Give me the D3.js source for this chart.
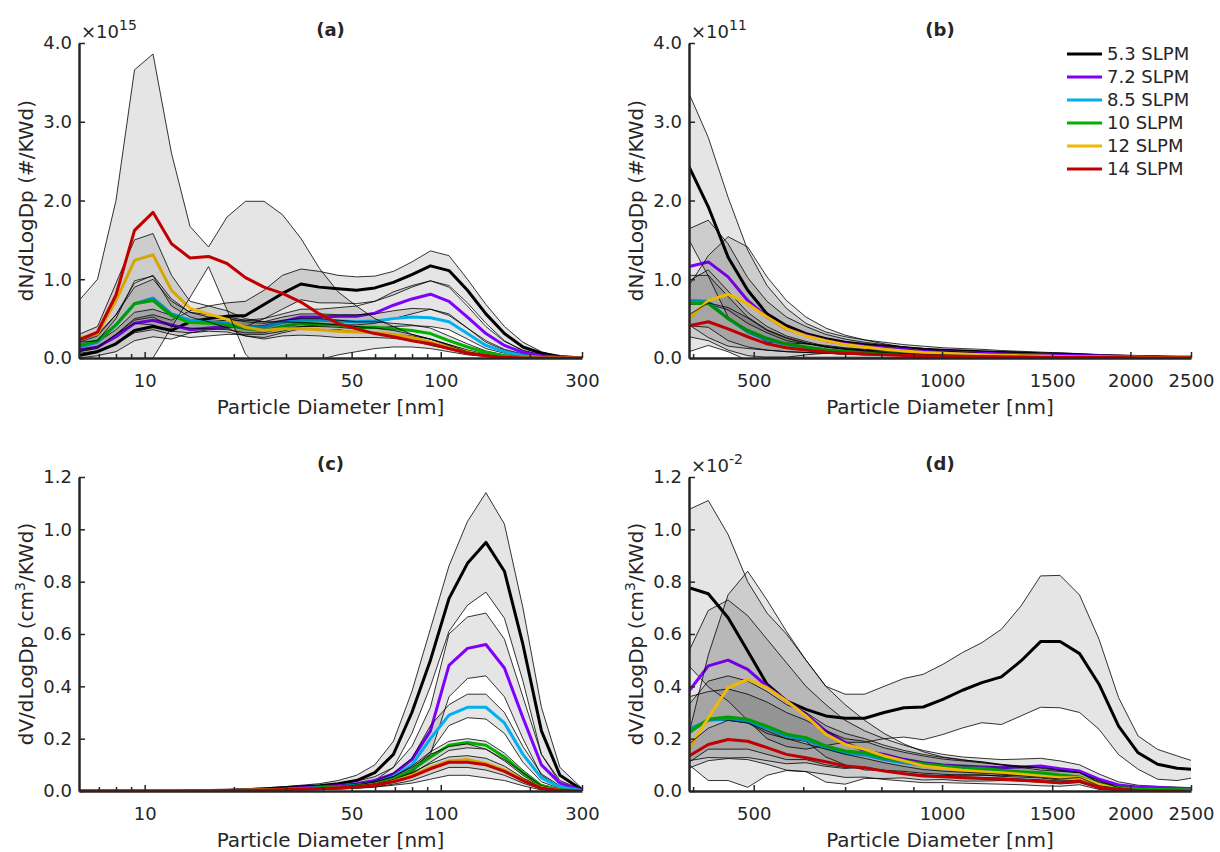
<!DOCTYPE html>
<html>
<head>
<meta charset="utf-8">
<script src="https://cdn.jsdelivr.net/npm/d3@7"></script>
<style>
  body { margin: 0; background: #fff; }
  text { font-family: "DejaVu Sans", sans-serif; fill: #262626; }
</style>
</head>
<body>
<script>
// particle diameters (nm) -- SMPS bins for (a),(c), OPS bins for (b),(d)
const dpA = [6.0,6.93,8.0,9.24,10.67,12.32,14.23,16.43,18.97,21.9,25.3,29.2,33.7,38.9,45.0,51.9,59.9,69.2,79.9,92.3,106.6,123.1,142.1,164.1,189.5,218.8,252.7,300];
const dpB = [394,423,455,489,525,564,606,652,700,752,808,869,933,1003,1078,1158,1244,1337,1437,1544,1659,1782,1915,2058,2211,2376,2500];

const seriesNames = ["5.3 SLPM", "7.2 SLPM", "8.5 SLPM", "10 SLPM", "12 SLPM", "14 SLPM"];
const seriesColors = ["#000000", "#8000ff", "#00b0f0", "#00b000", "#f0b800", "#c00000"];

// (a) dN/dLogDp, x1e15  -- mean, lower, upper
const a53   = [0.03,0.08,0.18,0.35,0.40,0.35,0.46,0.50,0.53,0.54,0.68,0.82,0.94,0.90,0.88,0.86,0.89,0.96,1.06,1.17,1.11,0.86,0.56,0.31,0.14,0.06,0.02,0];
const a53lo = [0,0.03,0.08,0.22,0.27,0.24,0.32,0.36,0.38,0.40,0.50,0.62,0.74,0.70,0.70,0.69,0.72,0.80,0.90,0.98,0.92,0.70,0.44,0.22,0.09,0.04,0.01,0];
const a53hi = [0.08,0.14,0.30,0.50,0.55,0.48,0.60,0.66,0.70,0.72,0.86,1.05,1.13,1.10,1.05,1.03,1.04,1.10,1.22,1.36,1.30,1.00,0.68,0.40,0.20,0.08,0.02,0];
const a72   = [0.10,0.14,0.27,0.44,0.48,0.42,0.36,0.38,0.40,0.40,0.40,0.46,0.52,0.52,0.53,0.53,0.57,0.67,0.75,0.81,0.72,0.52,0.31,0.16,0.07,0.03,0.01,0];
const a72lo = [0.06,0.09,0.18,0.32,0.36,0.30,0.26,0.28,0.30,0.30,0.30,0.34,0.40,0.42,0.42,0.42,0.44,0.50,0.56,0.62,0.54,0.38,0.22,0.11,0.05,0.02,0,0];
const a72hi = [0.14,0.20,0.36,0.58,0.62,0.54,0.46,0.46,0.48,0.48,0.50,0.56,0.62,0.62,0.64,0.66,0.72,0.84,0.92,0.98,0.90,0.66,0.40,0.21,0.10,0.04,0.01,0];
const a85   = [0.14,0.20,0.42,0.69,0.76,0.56,0.48,0.46,0.44,0.40,0.39,0.45,0.48,0.48,0.47,0.46,0.47,0.50,0.52,0.51,0.46,0.31,0.16,0.08,0.03,0.01,0,0];
const a85lo = [0.08,0.12,0.30,0.48,0.52,0.40,0.38,0.37,0.36,0.32,0.32,0.38,0.40,0.40,0.39,0.37,0.38,0.40,0.41,0.40,0.36,0.24,0.12,0.06,0.02,0,0,0];
const a85hi = [0.20,0.28,0.55,0.90,1.00,0.72,0.58,0.55,0.52,0.48,0.46,0.52,0.56,0.56,0.55,0.55,0.56,0.60,0.63,0.62,0.56,0.38,0.20,0.10,0.04,0.01,0,0];
const a10   = [0.16,0.22,0.42,0.69,0.73,0.54,0.45,0.44,0.42,0.37,0.35,0.40,0.44,0.43,0.42,0.39,0.39,0.37,0.35,0.31,0.22,0.14,0.07,0.03,0.01,0,0,0];
const a10lo = [0.10,0.14,0.30,0.44,0.42,0.34,0.32,0.34,0.33,0.28,0.26,0.32,0.37,0.36,0.36,0.33,0.32,0.30,0.28,0.24,0.17,0.10,0.05,0.02,0,0,0,0];
const a10hi = [0.22,0.30,0.55,0.95,1.05,0.75,0.58,0.52,0.50,0.46,0.44,0.48,0.50,0.50,0.48,0.46,0.46,0.44,0.42,0.38,0.28,0.18,0.09,0.04,0.01,0,0,0];
const a12   = [0.25,0.31,0.73,1.24,1.31,0.86,0.63,0.56,0.49,0.39,0.35,0.37,0.37,0.36,0.34,0.33,0.32,0.30,0.26,0.20,0.14,0.08,0.03,0.01,0,0,0,0];
const a12lo = [0.20,0.22,0.50,0.98,1.04,0.66,0.52,0.46,0.38,0.28,0.24,0.28,0.29,0.28,0.26,0.26,0.26,0.25,0.22,0.16,0.11,0.06,0.02,0,0,0,0,0];
const a12hi = [0.30,0.40,0.95,1.50,1.58,1.05,0.72,0.66,0.60,0.50,0.46,0.46,0.45,0.44,0.42,0.40,0.38,0.35,0.30,0.24,0.17,0.10,0.04,0.01,0,0,0,0];
const a14   = [0.23,0.33,0.80,1.62,1.85,1.45,1.27,1.29,1.20,1.02,0.90,0.82,0.71,0.56,0.44,0.37,0.31,0.27,0.22,0.18,0.12,0.06,0.03,0.01,0,0,0,0];
const a14lo = [-0.27,-0.34,-0.40,-0.42,0,0.39,0.77,1.16,0.61,0.05,-0.19,-0.18,-0.10,-0.02,0.04,0.08,0.12,0.14,0.14,0.12,0.08,0.04,0.02,0.01,0,0,0,0];
const a14hi = [0.73,1.00,2.00,3.66,3.86,2.60,1.67,1.41,1.79,1.99,1.99,1.82,1.52,1.14,0.84,0.66,0.50,0.40,0.30,0.24,0.16,0.08,0.04,0.01,0,0,0,0];

// (b) dN/dLogDp, x1e11
const b53   = [2.43,1.92,1.28,0.86,0.56,0.41,0.31,0.245,0.20,0.17,0.15,0.13,0.11,0.10,0.09,0.08,0.07,0.065,0.055,0.05,0.04,0.03,0.025,0.02,0.015,0.01,0.01];
const b53lo = [1.50,1.04,0.52,0.35,0.20,0.19,0.18,0.16,0.13,0.11,0.10,0.09,0.07,0.07,0.06,0.05,0.045,0.045,0.035,0.035,0.025,0.015,0.015,0.012,0.01,0.005,0.008];
const b53hi = [3.36,2.80,2.04,1.37,0.92,0.63,0.44,0.33,0.27,0.23,0.20,0.17,0.15,0.13,0.12,0.11,0.095,0.085,0.075,0.065,0.055,0.045,0.035,0.028,0.02,0.015,0.012];
const b72   = [1.16,1.22,1.03,0.73,0.52,0.37,0.29,0.22,0.18,0.15,0.13,0.11,0.09,0.08,0.07,0.06,0.05,0.045,0.04,0.035,0.03,0.025,0.02,0.015,0.01,0.01,0.01];
const b72lo = [0.68,0.69,0.61,0.44,0.32,0.22,0.18,0.14,0.12,0.10,0.09,0.08,0.06,0.06,0.05,0.04,0.035,0.032,0.03,0.025,0.022,0.02,0.015,0.01,0.007,0.008,0.008];
const b72hi = [1.64,1.75,1.45,1.02,0.72,0.52,0.40,0.30,0.24,0.20,0.17,0.14,0.12,0.10,0.09,0.08,0.065,0.058,0.05,0.045,0.038,0.03,0.025,0.02,0.013,0.012,0.012];
const b85   = [0.73,0.72,0.50,0.33,0.23,0.17,0.13,0.10,0.08,0.065,0.055,0.045,0.04,0.035,0.03,0.025,0.02,0.018,0.015,0.012,0.01,0.008,0.006,0.005,0.004,0.003,0.003];
const b85lo = [0.41,0.39,0.22,0.14,0.10,0.08,0.07,0.06,0.05,0.04,0.035,0.03,0.03,0.025,0.02,0.018,0.014,0.014,0.012,0.009,0.008,0.006,0.004,0.004,0.003,0.002,0.002];
const b85hi = [1.05,1.05,0.78,0.52,0.36,0.26,0.19,0.14,0.11,0.09,0.075,0.06,0.05,0.045,0.04,0.032,0.026,0.022,0.018,0.015,0.012,0.01,0.008,0.006,0.005,0.004,0.004];
const b10   = [0.70,0.69,0.50,0.35,0.25,0.18,0.14,0.105,0.085,0.07,0.06,0.05,0.042,0.036,0.03,0.026,0.022,0.019,0.016,0.013,0.011,0.009,0.007,0.005,0.004,0.003,0.003];
const b10lo = [0.42,0.26,0.15,0.12,0.10,0.08,0.07,0.06,0.05,0.04,0.04,0.035,0.03,0.025,0.02,0.018,0.016,0.014,0.012,0.01,0.008,0.007,0.005,0.003,0.003,0.002,0.002];
const b10hi = [0.98,1.12,0.85,0.58,0.40,0.28,0.21,0.15,0.12,0.10,0.08,0.065,0.055,0.047,0.04,0.034,0.028,0.024,0.02,0.016,0.014,0.011,0.009,0.007,0.005,0.004,0.004];
const b12   = [0.50,0.73,0.81,0.69,0.52,0.37,0.28,0.22,0.17,0.14,0.11,0.09,0.07,0.06,0.05,0.04,0.035,0.03,0.025,0.02,0.017,0.014,0.011,0.008,0.006,0.004,0.004];
const b12lo = [0.08,0.16,0.08,-0.03,0.01,0.01,0.04,0.06,0.05,0.05,0.04,0.04,0.03,0.03,0.025,0.02,0.02,0.018,0.015,0.012,0.011,0.01,0.008,0.006,0.004,0.003,0.003];
const b12hi = [0.92,1.30,1.54,1.41,1.03,0.73,0.52,0.38,0.29,0.23,0.18,0.14,0.11,0.09,0.075,0.06,0.05,0.042,0.035,0.028,0.023,0.018,0.014,0.01,0.008,0.005,0.005];
const b14   = [0.41,0.46,0.37,0.27,0.18,0.13,0.10,0.075,0.06,0.05,0.04,0.033,0.027,0.023,0.02,0.017,0.014,0.012,0.01,0.009,0.008,0.006,0.005,0.004,0.003,0.002,0.002];
const b14lo = [0.27,0.22,0.10,0.03,0.01,0.01,0.01,0.01,0.01,0.01,0.01,0.008,0.006,0.006,0.005,0.004,0.003,0.003,0.002,0.002,0.002,0.001,0.001,0.001,0.001,0,0];
const b14hi = [0.55,0.70,0.64,0.51,0.35,0.25,0.19,0.14,0.11,0.09,0.07,0.058,0.048,0.04,0.035,0.03,0.025,0.021,0.018,0.016,0.014,0.011,0.009,0.007,0.005,0.004,0.004];

// (c) dV/dLogDp, cm3/KWd
const c53   = [0,0,0,0,0,0.001,0.001,0.002,0.003,0.005,0.008,0.012,0.016,0.02,0.028,0.04,0.07,0.14,0.30,0.50,0.735,0.87,0.95,0.84,0.56,0.23,0.06,0.005];
const c53lo = [0,0,0,0,0,0,0,0,0.001,0.002,0.004,0.008,0.01,0.012,0.016,0.022,0.04,0.09,0.22,0.40,0.61,0.71,0.76,0.66,0.42,0.14,0.03,0];
const c53hi = [0,0,0,0,0.001,0.002,0.003,0.004,0.005,0.008,0.012,0.016,0.022,0.028,0.04,0.06,0.10,0.19,0.38,0.62,0.86,1.03,1.14,1.02,0.70,0.32,0.09,0.01];
const c72   = [0,0,0,0,0,0,0.001,0.001,0.002,0.003,0.005,0.008,0.011,0.015,0.02,0.028,0.04,0.065,0.12,0.23,0.48,0.545,0.56,0.47,0.28,0.10,0.03,0.003];
const c72lo = [0,0,0,0,0,0,0,0,0.001,0.001,0.003,0.005,0.007,0.01,0.013,0.019,0.025,0.04,0.07,0.14,0.36,0.43,0.44,0.36,0.20,0.06,0.015,0];
const c72hi = [0,0,0,0,0,0.001,0.002,0.002,0.003,0.005,0.007,0.011,0.015,0.02,0.027,0.037,0.055,0.09,0.17,0.32,0.60,0.665,0.68,0.58,0.36,0.14,0.04,0.005];
const c85   = [0,0,0,0,0,0,0.001,0.001,0.002,0.003,0.004,0.006,0.009,0.012,0.016,0.022,0.03,0.055,0.10,0.20,0.29,0.32,0.32,0.26,0.14,0.05,0.015,0.002];
const c85lo = [0,0,0,0,0,0,0,0.001,0.001,0.002,0.003,0.004,0.006,0.008,0.011,0.016,0.022,0.042,0.075,0.15,0.25,0.28,0.275,0.22,0.11,0.035,0.01,0.001];
const c85hi = [0,0,0,0,0,0.001,0.001,0.002,0.003,0.004,0.006,0.008,0.012,0.016,0.021,0.028,0.038,0.068,0.125,0.25,0.33,0.37,0.37,0.30,0.17,0.065,0.02,0.003];
const c10   = [0,0,0,0,0,0,0.001,0.001,0.002,0.003,0.004,0.006,0.008,0.011,0.014,0.019,0.028,0.045,0.08,0.13,0.175,0.185,0.175,0.13,0.07,0.02,0.005,0.001];
const c10lo = [0,0,0,0,0,0,0,0.001,0.001,0.002,0.003,0.004,0.006,0.008,0.01,0.014,0.022,0.035,0.065,0.11,0.155,0.165,0.16,0.115,0.06,0.015,0.003,0];
const c10hi = [0,0,0,0,0,0.001,0.001,0.002,0.003,0.004,0.005,0.008,0.011,0.014,0.018,0.024,0.034,0.055,0.095,0.15,0.19,0.20,0.19,0.145,0.08,0.025,0.007,0.001];
const c12   = [0,0,0,0,0,0,0.001,0.001,0.002,0.003,0.004,0.005,0.007,0.009,0.012,0.016,0.025,0.04,0.06,0.09,0.115,0.12,0.105,0.08,0.045,0.012,0.003,0];
const c12lo = [0,0,0,0,0,0,0,0,0.001,0.001,0.002,0.003,0.004,0.005,0.007,0.01,0.015,0.022,0.03,0.045,0.06,0.06,0.05,0.04,0.02,0.004,0.001,0];
const c12hi = [0,0,0,0,0,0.001,0.001,0.002,0.003,0.004,0.006,0.008,0.01,0.013,0.017,0.022,0.034,0.055,0.09,0.14,0.17,0.18,0.16,0.12,0.07,0.02,0.005,0.001];
const c14   = [0,0,0,0,0,0,0.001,0.001,0.002,0.003,0.004,0.005,0.007,0.009,0.011,0.015,0.022,0.035,0.055,0.085,0.11,0.11,0.10,0.075,0.04,0.01,0.003,0];
const c14lo = [0,0,0,0,0,0,0,0,0.001,0.002,0.003,0.004,0.005,0.006,0.008,0.011,0.016,0.026,0.04,0.065,0.09,0.09,0.08,0.06,0.03,0.007,0.002,0];
const c14hi = [0,0,0,0,0,0.001,0.001,0.002,0.003,0.004,0.005,0.007,0.009,0.012,0.015,0.02,0.028,0.044,0.07,0.105,0.13,0.135,0.125,0.095,0.05,0.014,0.004,0];

// (d) dV/dLogDp, x1e-2
const d53   = [0.777,0.754,0.662,0.535,0.408,0.344,0.312,0.287,0.278,0.278,0.30,0.318,0.321,0.35,0.385,0.414,0.436,0.497,0.571,0.571,0.525,0.408,0.248,0.146,0.102,0.087,0.083];
const d53lo = [0.478,0.398,0.344,0.27,0.20,0.17,0.16,0.174,0.186,0.186,0.20,0.206,0.196,0.216,0.241,0.261,0.254,0.287,0.32,0.318,0.30,0.236,0.139,0.083,0.045,0.04,0.049];
const d53hi = [1.076,1.11,0.98,0.80,0.68,0.60,0.50,0.40,0.37,0.37,0.40,0.43,0.446,0.484,0.529,0.567,0.618,0.707,0.822,0.824,0.749,0.58,0.357,0.21,0.159,0.134,0.117];
const d72   = [0.382,0.478,0.50,0.465,0.40,0.344,0.293,0.229,0.185,0.153,0.14,0.121,0.108,0.099,0.096,0.092,0.089,0.092,0.096,0.085,0.076,0.045,0.023,0.015,0.013,0.01,0.009];
const d72lo = [0.23,0.27,0.27,0.26,0.22,0.20,0.19,0.13,0.10,0.08,0.08,0.067,0.06,0.058,0.062,0.06,0.058,0.062,0.067,0.055,0.052,0.025,0.011,0.008,0.008,0.005,0.005];
const d72hi = [0.535,0.69,0.73,0.67,0.58,0.49,0.40,0.33,0.27,0.23,0.20,0.175,0.155,0.14,0.13,0.125,0.12,0.122,0.125,0.115,0.10,0.065,0.035,0.022,0.018,0.015,0.013];
const d85   = [0.235,0.27,0.275,0.265,0.24,0.21,0.195,0.165,0.145,0.138,0.12,0.108,0.098,0.09,0.085,0.08,0.075,0.07,0.065,0.058,0.052,0.022,0.01,0.006,0.005,0.004,0.003];
const d85lo = [0.11,0.16,0.16,0.16,0.14,0.12,0.12,0.10,0.09,0.086,0.075,0.068,0.062,0.058,0.055,0.052,0.05,0.046,0.043,0.038,0.034,0.012,0.005,0.003,0.003,0.002,0.001];
const d85hi = [0.36,0.38,0.39,0.37,0.34,0.30,0.27,0.23,0.20,0.19,0.165,0.148,0.134,0.122,0.115,0.108,0.10,0.094,0.087,0.078,0.07,0.032,0.015,0.009,0.007,0.006,0.005];
const d10   = [0.223,0.274,0.283,0.274,0.248,0.217,0.204,0.172,0.153,0.146,0.127,0.115,0.104,0.096,0.089,0.087,0.079,0.074,0.07,0.061,0.054,0.025,0.013,0.008,0.006,0.005,0.004];
const d10lo = [0.116,0.128,0.126,0.128,0.116,0.104,0.108,0.094,0.086,0.092,0.079,0.075,0.068,0.064,0.06,0.062,0.056,0.053,0.05,0.042,0.038,0.015,0.008,0.005,0.004,0.003,0.002];
const d10hi = [0.33,0.42,0.44,0.42,0.38,0.33,0.30,0.25,0.22,0.20,0.175,0.155,0.14,0.128,0.118,0.112,0.102,0.095,0.09,0.08,0.07,0.035,0.018,0.011,0.008,0.007,0.006];
const d12   = [0.16,0.28,0.395,0.427,0.395,0.344,0.287,0.217,0.178,0.159,0.134,0.115,0.096,0.087,0.079,0.074,0.07,0.064,0.057,0.051,0.051,0.025,0.006,0,0,0,0];
const d12lo = [0.10,0.04,0.04,0.014,0.06,0.078,0.074,0.034,0.026,0.048,0.048,0.05,0.042,0.044,0.038,0.038,0.04,0.038,0.034,0.027,0.032,0.01,0,0,0,0,0];
const d12hi = [0.22,0.52,0.75,0.84,0.73,0.61,0.50,0.40,0.33,0.27,0.22,0.18,0.15,0.13,0.12,0.11,0.10,0.09,0.08,0.075,0.07,0.04,0.012,0.002,0,0,0];
const d14   = [0.134,0.178,0.197,0.19,0.166,0.14,0.127,0.112,0.096,0.089,0.076,0.066,0.057,0.054,0.051,0.048,0.045,0.041,0.036,0.032,0.038,0.013,0.006,0.002,0.001,0.001,0];
const d14lo = [0.088,0.116,0.124,0.12,0.102,0.08,0.074,0.064,0.052,0.053,0.044,0.038,0.032,0.032,0.03,0.028,0.026,0.024,0.02,0.018,0.024,0.006,0.002,0,0,0,0];
const d14hi = [0.18,0.24,0.27,0.26,0.23,0.20,0.18,0.16,0.14,0.125,0.108,0.094,0.082,0.076,0.072,0.068,0.064,0.058,0.052,0.046,0.052,0.02,0.01,0.004,0.002,0.002,0.001];

// axis ticks
const xTicksSmps = [10, 50, 100, 300];
const xMinorSmps = [7, 8, 9, 20, 30, 40, 60, 70, 80, 90, 200];
const xTicksOps = [500, 1000, 1500, 2000, 2500];
const xMinorOps = [400, 600, 700, 800, 900];
const yTicksN = [0, 1, 2, 3, 4];
const yTicksV = [0, 0.2, 0.4, 0.6, 0.8, 1.0, 1.2];

const W = 1220, H = 852;
const svg = d3.select("body").append("svg").attr("width", W).attr("height", H);

const panels = [
  { tag: "a", dp: dpA, left: 79, right: 582, top: 43, bottom: 358, xDom: [6, 300], yMax: 4,
    xTicks: xTicksSmps, xMinor: xMinorSmps, yTicks: yTicksN, exp: "15", ylab: ["dN/dLogDp (#/KWd)"],
    series: [[a53,a53lo,a53hi],[a72,a72lo,a72hi],[a85,a85lo,a85hi],[a10,a10lo,a10hi],[a12,a12lo,a12hi],[a14,a14lo,a14hi]] },
  { tag: "b", dp: dpB, left: 689, right: 1191, top: 43, bottom: 358, xDom: [394, 2500], yMax: 4,
    xTicks: xTicksOps, xMinor: xMinorOps, yTicks: yTicksN, exp: "11", ylab: ["dN/dLogDp (#/KWd)"], legend: true,
    series: [[b53,b53lo,b53hi],[b72,b72lo,b72hi],[b85,b85lo,b85hi],[b10,b10lo,b10hi],[b12,b12lo,b12hi],[b14,b14lo,b14hi]] },
  { tag: "c", dp: dpA, left: 79, right: 582, top: 477, bottom: 791, xDom: [6, 300], yMax: 1.2,
    xTicks: xTicksSmps, xMinor: xMinorSmps, yTicks: yTicksV, exp: null, ylab: ["dV/dLogDp (cm", "3", "/KWd)"],
    series: [[c53,c53lo,c53hi],[c72,c72lo,c72hi],[c85,c85lo,c85hi],[c10,c10lo,c10hi],[c12,c12lo,c12hi],[c14,c14lo,c14hi]] },
  { tag: "d", dp: dpB, left: 689, right: 1191, top: 477, bottom: 791, xDom: [394, 2500], yMax: 1.2,
    xTicks: xTicksOps, xMinor: xMinorOps, yTicks: yTicksV, exp: "-2", ylab: ["dV/dLogDp (cm", "3", "/KWd)"],
    series: [[d53,d53lo,d53hi],[d72,d72lo,d72hi],[d85,d85lo,d85hi],[d10,d10lo,d10hi],[d12,d12lo,d12hi],[d14,d14lo,d14hi]] }
];

const defs = svg.append("defs");

panels.forEach(p => {
  const x = d3.scaleLog().domain(p.xDom).range([p.left, p.right]);
  const y = d3.scaleLinear().domain([0, p.yMax]).range([p.bottom, p.top]);

  defs.append("clipPath").attr("id", "clip-" + p.tag)
    .append("rect")
    .attr("x", p.left).attr("y", p.top - 2)
    .attr("width", p.right - p.left).attr("height", p.bottom - p.top + 3);

  const plot = svg.append("g").attr("clip-path", `url(#clip-${p.tag})`);

  p.series.forEach((s, i) => {
    const rows = p.dp.map((d, j) => ({ d, m: s[0][j], lo: s[1][j], hi: s[2][j] }))
      .filter(r => r.m != null && r.lo != null && r.hi != null);

    // shaded band (mean +/- std) with thin black edges
    plot.append("path").datum(rows)
      .attr("d", d3.area().x(r => x(r.d)).y0(r => y(r.lo)).y1(r => y(r.hi)))
      .attr("fill", "#000").attr("fill-opacity", 0.1).attr("stroke", "none");
    ["lo", "hi"].forEach(k => {
      plot.append("path").datum(rows)
        .attr("d", d3.line().x(r => x(r.d)).y(r => y(r[k])))
        .attr("fill", "none").attr("stroke", "#000").attr("stroke-width", 0.8);
    });

    plot.append("path").datum(rows)
      .attr("d", d3.line().x(r => x(r.d)).y(r => y(r.m)))
      .attr("fill", "none").attr("stroke", seriesColors[i])
      .attr("stroke-width", 3).attr("stroke-linejoin", "round");
  });

  // axes
  const xAxis = svg.append("g").attr("transform", `translate(0,${p.bottom})`)
    .call(d3.axisBottom(x).tickValues(p.xTicks).tickFormat(d3.format("d"))
      .tickSizeInner(-6).tickSizeOuter(0).tickPadding(16));
  svg.append("g").attr("transform", `translate(0,${p.bottom})`)
    .call(d3.axisBottom(x).tickValues(p.xMinor).tickFormat("").tickSizeInner(-4).tickSizeOuter(0))
    .call(g => g.select(".domain").remove());
  const yAxis = svg.append("g").attr("transform", `translate(${p.left},0)`)
    .call(d3.axisLeft(y).tickValues(p.yTicks).tickFormat(d3.format(".1f"))
      .tickSizeInner(-6).tickSizeOuter(0).tickPadding(7));

  svg.selectAll("g.tick line").attr("stroke", "#262626").attr("stroke-width", 1.5);
  [xAxis, yAxis].forEach(g => {
    g.attr("font-family", null).attr("font-size", null);
    g.select(".domain").attr("stroke", "#262626").attr("stroke-width", 2.5);
    g.selectAll("text").attr("font-size", 18).attr("fill", "#262626");
  });

  const cx = (p.left + p.right) / 2;

  // panel title
  svg.append("text").attr("x", cx).attr("y", p.top - 7)
    .attr("text-anchor", "middle").attr("font-weight", "bold").attr("font-size", 18)
    .text(`(${p.tag})`);

  // exponent label
  if (p.exp) {
    const t = svg.append("text").attr("x", p.left + 2).attr("y", p.top - 5).attr("font-size", 18);
    t.append("tspan").text("\u00d710");
    t.append("tspan").attr("font-size", 14).attr("dy", -8).text(p.exp);
  }

  // x label
  svg.append("text").attr("x", cx).attr("y", p.bottom + 56)
    .attr("text-anchor", "middle").attr("font-size", 20)
    .text("Particle Diameter [nm]");

  // y label
  const yl = svg.append("text")
    .attr("transform", `translate(${p.left - 46},${(p.top + p.bottom) / 2}) rotate(-90)`)
    .attr("text-anchor", "middle").attr("font-size", 20);
  yl.append("tspan").text(p.ylab[0]);
  if (p.ylab.length > 1) {
    yl.append("tspan").attr("font-size", 14).attr("dy", -8).text(p.ylab[1]);
    yl.append("tspan").attr("dy", 8).text(p.ylab[2]);
  }

  // legend
  if (p.legend) {
    const lg = svg.append("g");
    seriesNames.forEach((name, i) => {
      const yy = 54 + i * 23;
      lg.append("line").attr("x1", 1067).attr("x2", 1102).attr("y1", yy).attr("y2", yy)
        .attr("stroke", seriesColors[i]).attr("stroke-width", 3);
      lg.append("text").attr("x", 1107).attr("y", yy).attr("dy", "0.35em")
        .attr("font-size", 18).text(name);
    });
  }
});
</script>
</body>
</html>
